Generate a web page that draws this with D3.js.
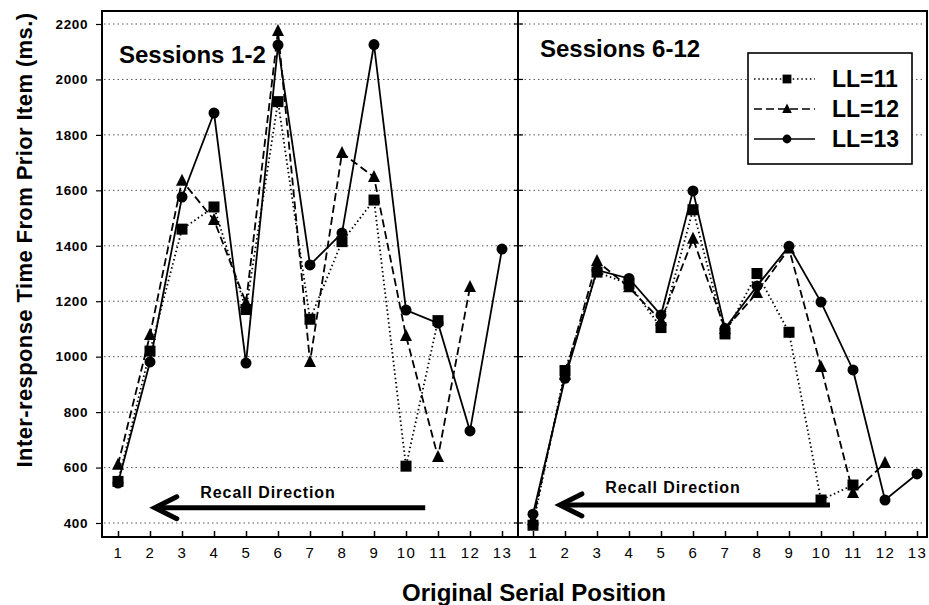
<!DOCTYPE html>
<html>
<head>
<meta charset="utf-8">
<script src="https://cdn.jsdelivr.net/npm/d3@7"></script>
<style>
  html, body { margin: 0; padding: 0; background: #fff; }
  svg { display: block; }
  text { font-family: "Liberation Sans", Arial, Helvetica, sans-serif; fill: #000; }
</style>
</head>
<body>
<svg id="chart" width="929" height="605"></svg>
<script>
// Serial positions (x categories)
const positions = d3.range(1, 14);
const yTicks = [400, 600, 800, 1000, 1200, 1400, 1600, 1800, 2000, 2200];

// Sessions 1-2: inter-response times (ms) by list length
const early11 = [550, 1020, 1460, 1540, 1170, 1920, 1135, 1415, 1565, 605, 1130];
const early12 = [610, 1078, 1635, 1493, 1194, 2175, 981, 1735, 1648, 1075, 638, 1251];
const early13 = [544, 981, 1576, 1879, 977, 2124, 1331, 1446, 2126, 1168, 1121, 732, 1388];

// Sessions 6-12: inter-response times (ms) by list length
const late11 = [392, 950, 1305, 1262, 1105, 1530, 1082, 1300, 1088, 483, 537];
const late12 = [410, 935, 1345, 1250, 1130, 1425, 1100, 1230, 1390, 963, 508, 616];
const late13 = [432, 922, 1312, 1282, 1150, 1598, 1102, 1255, 1398, 1197, 952, 483, 577];

const seriesNames = ["LL=11", "LL=12", "LL=13"];
const panelTitles = ["Sessions 1-2", "Sessions 6-12"];

// "Recall Direction" arrows: [from position, to position, level in ms]
const arrowEarly = [10.6, 2.15, 455];
const arrowLate = [10.28, 1.84, 465];

const svg = d3.select("#chart");

const frameTop = 11, frameBottom = 537;
const panels = [
  { left: 102, right: 518, xr: [118, 502], data: [early11, early12, early13], title: panelTitles[0], arrow: arrowEarly,
    titlePos: [119, 63], labelPos: [268, 498] },
  { left: 518, right: 927, xr: [533, 917], data: [late11, late12, late13], title: panelTitles[1], arrow: arrowLate,
    titlePos: [540, 57], labelPos: [673, 493] }
];

const y = d3.scaleLinear().domain([400, 2200]).range([523, 24]);

const styles = [
  { dash: "1.5,2.8", marker: "square" },
  { dash: "8,4", marker: "triangle" },
  { dash: null, marker: "circle" }
];

function drawMarker(g, type, cx, cy) {
  if (type === "square") {
    g.append("rect").attr("x", cx - 5.5).attr("y", cy - 5.5).attr("width", 11).attr("height", 11).attr("fill", "#000");
  } else if (type === "triangle") {
    g.append("path").attr("d", `M${cx},${cy - 7}L${cx + 6},${cy + 5}L${cx - 6},${cy + 5}Z`).attr("fill", "#000");
  } else {
    g.append("circle").attr("cx", cx).attr("cy", cy).attr("r", 5.5).attr("fill", "#000");
  }
}

panels.forEach((p, pi) => {
  const x = d3.scaleLinear().domain([1, 13]).range(p.xr);
  const g = svg.append("g");

  // horizontal dotted grid
  g.selectAll("line.grid").data(yTicks).join("line")
    .attr("x1", p.left + 2).attr("x2", p.right - 2)
    .attr("y1", d => y(d)).attr("y2", d => y(d))
    .attr("stroke", "#555").attr("stroke-width", 1).attr("stroke-dasharray", "1.5,3");

  // x axis with inward ticks
  const xAxis = d3.axisBottom(x).tickValues(positions).tickSizeInner(-6).tickSizeOuter(0).tickPadding(10);
  const xa = g.append("g").attr("transform", `translate(0,${frameBottom})`).call(xAxis);
  xa.select(".domain").remove();
  xa.selectAll(".tick line").attr("stroke", "#000").attr("stroke-width", 1.5);
  xa.selectAll(".tick text").attr("font-size", 15).attr("letter-spacing", "1.5px")
    .attr("font-family", "'Liberation Sans', Arial, sans-serif");

  // y ticks on each panel's left edge
  if (pi === 0) {
    const yAxis = d3.axisLeft(y).tickValues(yTicks).tickSizeInner(6).tickSizeOuter(0).tickPadding(8).tickFormat(d3.format("d"));
    const ya = g.append("g").attr("transform", `translate(${p.left},0)`).call(yAxis);
    ya.select(".domain").remove();
    ya.selectAll(".tick line").attr("stroke", "#000").attr("stroke-width", 1.2);
    ya.selectAll(".tick text").attr("font-size", 13.5).attr("font-weight", "bold").attr("letter-spacing", "0.6px")
      .attr("font-family", "'Liberation Sans', Arial, sans-serif");
  } else {
    g.selectAll("line.sep").data(yTicks).join("line")
      .attr("x1", p.left - 4).attr("x2", p.left + 5)
      .attr("y1", d => y(d)).attr("y2", d => y(d))
      .attr("stroke", "#000").attr("stroke-width", 1.2);
  }

  // series lines and markers
  p.data.forEach((vals, si) => {
    const line = d3.line().x((d, i) => x(positions[i])).y(d => y(d));
    g.append("path").datum(vals).attr("d", line)
      .attr("fill", "none").attr("stroke", "#000").attr("stroke-width", 1.8)
      .attr("stroke-dasharray", styles[si].dash);
    const mg = g.append("g");
    vals.forEach((v, i) => drawMarker(mg, styles[si].marker, x(positions[i]), y(v)));
  });

  // panel title
  g.append("text").attr("x", p.titlePos[0]).attr("y", p.titlePos[1])
    .attr("font-size", 24).attr("font-weight", "bold").text(p.title);

  // recall direction arrow
  const [a0, a1, lvl] = p.arrow;
  const ax0 = x(a0), ax1 = x(a1), ay = y(lvl);
  g.append("line").attr("x1", ax0).attr("x2", ax1 + 3).attr("y1", ay).attr("y2", ay)
    .attr("stroke", "#000").attr("stroke-width", 5);
  g.append("path").attr("d", `M${ax1 + 22},${ay - 11}L${ax1},${ay}L${ax1 + 22},${ay + 11}`)
    .attr("fill", "none").attr("stroke", "#000").attr("stroke-width", 5)
    .attr("stroke-linejoin", "miter").attr("stroke-linecap", "round");
  g.append("text").attr("x", p.labelPos[0]).attr("y", p.labelPos[1])
    .attr("text-anchor", "middle").attr("font-size", 16).attr("letter-spacing", "0.9px")
    .attr("font-weight", "bold").text("Recall Direction");
});

// frame
const frame = svg.append("g").attr("fill", "none").attr("stroke", "#000").attr("stroke-width", 2);
frame.append("rect").attr("x", 102).attr("y", frameTop).attr("width", 927 - 102).attr("height", frameBottom - frameTop);
frame.append("line").attr("x1", 518).attr("x2", 518).attr("y1", frameTop).attr("y2", frameBottom);

// legend
const lg = svg.append("g");
lg.append("rect").attr("x", 748).attr("y", 53).attr("width", 164).attr("height", 111)
  .attr("fill", "#fff").attr("stroke", "#000").attr("stroke-width", 1.6);
seriesNames.forEach((name, i) => {
  const ly = 79 + i * 30;
  lg.append("line").attr("x1", 754).attr("x2", 815).attr("y1", ly).attr("y2", ly)
    .attr("stroke", "#000").attr("stroke-width", 1.5).attr("stroke-dasharray", styles[i].dash);
  const mg = lg.append("g").attr("transform", `translate(787,${ly}) scale(0.8) translate(-787,${-ly})`);
  drawMarker(mg, styles[i].marker, 787, ly);
  lg.append("text").attr("x", 832).attr("y", ly + 8).attr("font-size", 23).attr("font-weight", "bold").text(name);
});

// axis titles
svg.append("text").attr("transform", "translate(32,240) rotate(-90)")
  .attr("text-anchor", "middle").attr("font-size", 22).attr("letter-spacing", "0.4px").attr("font-weight", "bold")
  .text("Inter-response Time From Prior Item (ms.)");
svg.append("text").attr("x", 534).attr("y", 601)
  .attr("text-anchor", "middle").attr("font-size", 24).attr("font-weight", "bold")
  .text("Original Serial Position");
</script>
</body>
</html>
